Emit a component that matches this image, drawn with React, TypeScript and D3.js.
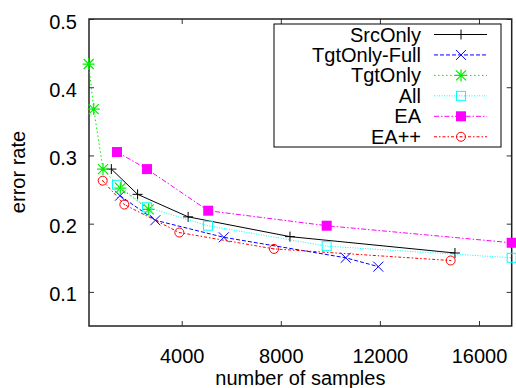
import React, { useEffect, useRef } from 'react';
import * as d3 from 'd3';

// series
const srcOnlyX = [1160, 2220, 4260, 8370, 15030];
const srcOnlyY = [0.280, 0.243, 0.210, 0.181, 0.157];

const tgtFullX = [1510, 2935, 5700, 10620, 11935];
const tgtFullY = [0.241, 0.205, 0.180, 0.150, 0.137];

const tgtOnlyX = [246, 448, 823, 1523, 2667];
const tgtOnlyY = [0.434, 0.368, 0.280, 0.252, 0.221];

const allX = [1388, 2599, 5060, 9852, 17318];
const allY = [0.257, 0.224, 0.197, 0.167, 0.150];

const eaX = [1388, 2599, 5070, 9852, 17318];
const eaY = [0.305, 0.280, 0.219, 0.197, 0.172];

const eaPPX = [811, 1684, 3904, 7725, 14856];
const eaPPY = [0.263, 0.228, 0.187, 0.163, 0.146];

const seriesNames = ['SrcOnly', 'TgtOnly-Full', 'TgtOnly', 'All', 'EA', 'EA++'];
const xTicks = [4000, 8000, 12000, 16000];
const yTicks = [0.1, 0.2, 0.3, 0.4, 0.5];

const FONT = '"Liberation Sans", Arial, sans-serif';

const drawMarker = (g, kind, color, cx, cy) => {
  if (kind === 'plus') {
    g.append('path').attr('d', `M${cx - 5},${cy}H${cx + 5}M${cx},${cy - 5}V${cy + 5}`)
      .attr('stroke', color).attr('stroke-width', 1);
  } else if (kind === 'cross') {
    g.append('path').attr('d', `M${cx - 5},${cy - 5}L${cx + 5},${cy + 5}M${cx - 5},${cy + 5}L${cx + 5},${cy - 5}`)
      .attr('stroke', color).attr('stroke-width', 1);
  } else if (kind === 'star') {
    g.append('path')
      .attr('d', `M${cx - 6},${cy}H${cx + 6}M${cx},${cy - 6}V${cy + 6}M${cx - 5},${cy - 5}L${cx + 5},${cy + 5}M${cx - 5},${cy + 5}L${cx + 5},${cy - 5}`)
      .attr('stroke', color).attr('stroke-width', 1.2);
  } else if (kind === 'box') {
    g.append('rect').attr('x', cx - 4.5).attr('y', cy - 4.5).attr('width', 9).attr('height', 9)
      .attr('fill', 'none').attr('stroke', color).attr('stroke-width', 1);
  } else if (kind === 'fbox') {
    g.append('rect').attr('x', cx - 5).attr('y', cy - 5).attr('width', 10).attr('height', 10)
      .attr('fill', color);
  } else if (kind === 'circle') {
    g.append('circle').attr('cx', cx).attr('cy', cy).attr('r', 4.5)
      .attr('fill', 'none').attr('stroke', color).attr('stroke-width', 1);
    g.append('circle').attr('cx', cx).attr('cy', cy).attr('r', 0.6).attr('fill', color);
  }
};

const ErrorRateChart = () => {
  const chartRef = useRef(null);

  useEffect(() => {
    const svg = d3.select(chartRef.current);
    svg.selectAll('*').remove();

    const left = 89, right = 511.7, top = 19, bottom = 326;

    const x = d3.scaleLinear().domain([258, 17320]).range([left, right]);
    const y = d3.scaleLinear().domain([0.05, 0.5]).range([bottom, top]);

    const series = [
      { xs: srcOnlyX, ys: srcOnlyY, color: '#000000', dash: null, marker: 'plus' },
      { xs: tgtFullX, ys: tgtFullY, color: '#0000ff', dash: '4,2', marker: 'cross' },
      { xs: tgtOnlyX, ys: tgtOnlyY, color: '#00ee00', dash: '1.5,2.5', marker: 'star' },
      { xs: allX, ys: allY, color: '#00ffff', dash: '1,1.5', marker: 'box' },
      { xs: eaX, ys: eaY, color: '#ff00ff', dash: '5,2,1.5,2', marker: 'fbox' },
      { xs: eaPPX, ys: eaPPY, color: '#ff0000', dash: '3,2,1.5,2', marker: 'circle' },
    ];

    // axes (gnuplot style inward ticks, mirrored)
    const frame = svg.append('g');
    frame.append('g').attr('transform', `translate(0,${bottom})`)
      .call(d3.axisBottom(x).tickValues(xTicks).tickSize(-5).tickPadding(23).tickFormat(d3.format('d')))
      .call((a) => a.select('.domain').remove());
    frame.append('g').attr('transform', `translate(0,${top})`)
      .call(d3.axisTop(x).tickValues(xTicks).tickSize(-5).tickFormat(() => ''))
      .call((a) => a.select('.domain').remove());
    const yAxisG = frame.append('g').attr('transform', `translate(${left},0)`)
      .call(d3.axisLeft(y).tickValues(yTicks).tickSize(-5).tickPadding(12).tickFormat(d3.format('.1f')))
      .call((a) => a.select('.domain').remove());
    yAxisG.selectAll('text').attr('dy', '0.45em');
    frame.append('g').attr('transform', `translate(${right},0)`)
      .call(d3.axisRight(y).tickValues(yTicks).tickSize(-5).tickFormat(() => ''))
      .call((a) => a.select('.domain').remove());
    frame.selectAll('text').attr('font-family', FONT).attr('font-size', 20).attr('fill', '#000');
    frame.selectAll('line').attr('stroke', '#333');

    frame.append('rect')
      .attr('x', left).attr('y', top).attr('width', right - left).attr('height', bottom - top)
      .attr('fill', 'none').attr('stroke', '#222').attr('stroke-width', 1.5);

    // legend
    const lg = svg.append('g');
    lg.append('rect').attr('x', 274).attr('y', 24).attr('width', 227).attr('height', 123)
      .attr('fill', 'white').attr('stroke', '#000').attr('stroke-width', 1);
    series.forEach((s, i) => {
      const cy = 34.5 + i * 20.45;
      lg.append('text').attr('x', 421).attr('y', cy + 7).attr('text-anchor', 'end')
        .attr('font-family', FONT).attr('font-size', 20).text(seriesNames[i]);
      lg.append('line').attr('x1', 434).attr('x2', 487).attr('y1', cy).attr('y2', cy)
        .attr('stroke', s.color).attr('stroke-width', 1)
        .attr('stroke-dasharray', s.dash);
      drawMarker(lg, s.marker, s.color, 461, cy);
    });

    // lines and markers
    const line = d3.line().x((d) => x(d[0])).y((d) => y(d[1]));
    series.forEach((s) => {
      const pts = s.xs.map((v, i) => [v, s.ys[i]]);
      svg.append('path').datum(pts)
        .attr('fill', 'none').attr('stroke', s.color).attr('stroke-width', 1)
        .attr('stroke-dasharray', s.dash).attr('d', line);
      const mg = svg.append('g');
      pts.forEach((p) => drawMarker(mg, s.marker, s.color, x(p[0]), y(p[1])));
    });

    // axis titles
    svg.append('text').attr('x', (left + right) / 2).attr('y', 385).attr('text-anchor', 'middle')
      .attr('font-family', FONT).attr('font-size', 20).text('number of samples');
    svg.append('text').attr('transform', `translate(25,172) rotate(-90)`).attr('text-anchor', 'middle')
      .attr('font-family', FONT).attr('font-size', 20).text('error rate');
  }, []);

  return (
    <svg ref={chartRef} width={516} height={388}
      style={{ position: 'absolute', left: 0, top: 0, background: 'white' }} />
  );
};

export default function App() {
  return <ErrorRateChart />;
}
